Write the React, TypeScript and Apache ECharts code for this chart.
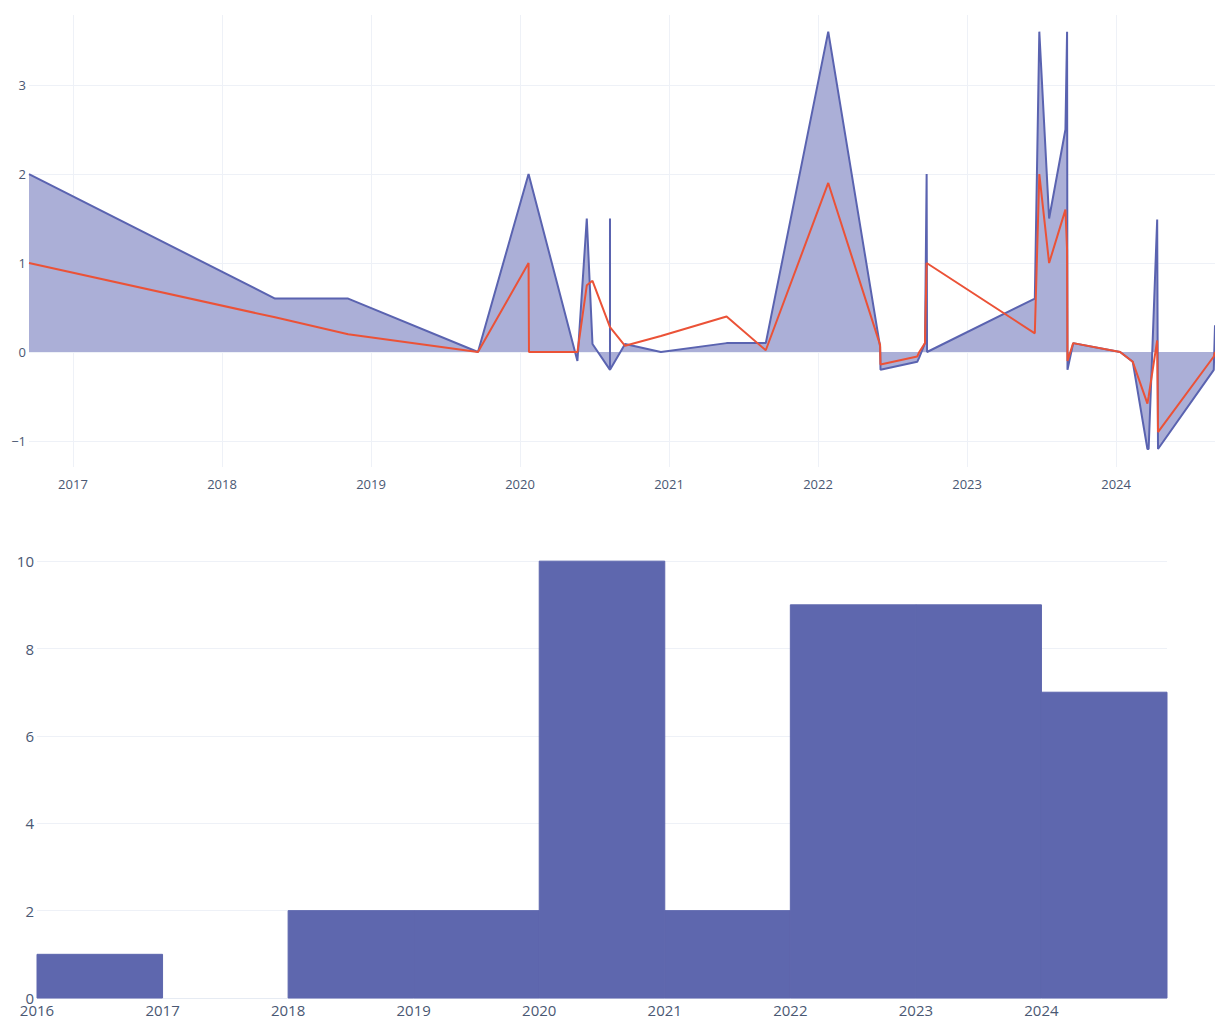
import React, { useEffect, useRef } from "react";
import * as echarts from "echarts";

// ---- Top chart data (dates, blue filled series, red line series) ----
const dates: string[] = [
  "2016-09-15", "2018-05-11", "2018-11-06", "2019-09-20", "2020-01-22",
  "2020-01-23", "2020-05-21", "2020-06-13", "2020-06-27", "2020-08-09",
  "2020-08-09", "2020-08-09", "2020-09-15", "2020-12-12", "2021-05-22",
  "2021-08-26", "2022-01-26", "2022-06-02", "2022-06-03", "2022-09-01",
  "2022-09-06", "2022-09-20", "2022-09-24", "2022-09-25", "2023-06-16",
  "2023-06-27", "2023-07-21", "2023-08-30", "2023-09-03", "2023-09-04",
  "2023-09-18", "2024-01-11", "2024-02-11", "2024-03-18", "2024-03-21",
  "2024-04-11", "2024-04-13", "2024-08-28", "2024-08-31",
];
const blueValues: number[] = [
  2, 0.6, 0.6, 0, 2,
  2, -0.1, 1.5, 0.09, -0.2,
  1.5, -0.2, 0.09, 0, 0.1,
  0.1, 3.6, 0.06, -0.2, -0.11,
  -0.06, 0.1, 2, 0, 0.6,
  3.6, 1.5, 2.5, 3.6, -0.2,
  0.1, 0, -0.11, -1.09, -1.09,
  1.49, -1.09, -0.2, 0.3,
];
const redValues: number[] = [
  1, 0.39, 0.2, 0, 1,
  0, 0, 0.75, 0.8, 0.28,
  0.28, 0.28, 0.07, 0.18, 0.4,
  0.02, 1.9, 0.08, -0.14, -0.05,
  0, 0.1, 1, 1, 0.21,
  2, 1, 1.6, 1.15, -0.1,
  0.1, 0, -0.11, -0.58, -0.5,
  0.13, -0.9, -0.05, 0,
];

// ---- Bottom chart data (yearly histogram) ----
const histYears: number[] = [2016, 2017, 2018, 2019, 2020, 2021, 2022, 2023, 2024];
const histCounts: number[] = [1, 0, 2, 2, 10, 2, 9, 9, 7];

const toYear = (s: string): number => {
  const [y, m, d] = s.split("-").map(Number);
  const start = Date.UTC(y, 0, 1);
  const end = Date.UTC(y + 1, 0, 1);
  return y + (Date.UTC(y, m - 1, d) - start) / (end - start);
};

const FONT = "'Open Sans', 'Noto Sans', sans-serif";
const TEXT = "#4a5873";
const GRID = "#eef1f7";
const BAR = "#5e67ae";

export default function App() {
  const ref = useRef<HTMLDivElement>(null);

  useEffect(() => {
    if (!ref.current) return;
    const chart = echarts.init(ref.current, undefined, { renderer: "svg" });
    const xs = dates.map(toYear);
    const minus = (v: number) => (v < 0 ? "\u2212" + Math.abs(v) : String(v));

    chart.setOption({
      animation: false,
      backgroundColor: "#ffffff",
      textStyle: { fontFamily: FONT },
      grid: [
        { left: 29, top: 15, width: 1186, height: 452 },
        { left: 37, top: 538, width: 1130, height: 460 },
      ],
      xAxis: [
        {
          type: "value",
          gridIndex: 0,
          min: xs[0],
          max: xs[xs.length - 1],
          splitNumber: 8,
          axisLine: { show: false },
          axisTick: { show: false },
          axisLabel: {
            interval: 0,
            showMinLabel: false,
            showMaxLabel: false,
            color: TEXT,
            fontSize: 13,
            fontFamily: FONT,
            margin: 10,
            formatter: (v: number) => String(Math.round(v)),
          },
          splitLine: {
            show: true,
            showMinLine: false,
            showMaxLine: false,
            lineStyle: { color: GRID, width: 1 },
          },
        },
        {
          type: "value",
          gridIndex: 1,
          min: 2016,
          max: 2025,
          interval: 1,
          axisLine: { show: true, lineStyle: { color: "#e6ebf3", width: 1 } },
          axisTick: { show: false },
          axisLabel: {
            interval: 0,
            color: TEXT,
            fontSize: 15,
            fontFamily: FONT,
            margin: 4,
            formatter: (v: number) => (v >= 2025 ? "" : String(v)),
          },
          splitLine: { show: false },
        },
      ],
      yAxis: [
        {
          type: "value",
          gridIndex: 0,
          min: -1.292,
          max: 3.787,
          splitNumber: 5,
          axisLine: { show: false },
          axisTick: { show: false },
          axisLabel: {
            showMinLabel: false,
            showMaxLabel: false,
            color: TEXT,
            fontSize: 13,
            fontFamily: FONT,
            margin: 3,
            formatter: (v: number) => minus(Math.round(v)),
          },
          splitLine: {
            show: true,
            showMinLine: false,
            showMaxLine: false,
            lineStyle: { color: GRID, width: 1 },
          },
        },
        {
          type: "value",
          gridIndex: 1,
          min: 0,
          max: 10.53,
          interval: 2,
          axisLine: { show: false },
          axisTick: { show: false },
          axisLabel: {
            showMaxLabel: false,
            color: TEXT,
            fontSize: 15,
            fontFamily: FONT,
            margin: 3,
          },
          splitLine: {
            show: true,
            showMaxLine: false,
            lineStyle: { color: GRID, width: 1 },
          },
        },
      ],
      series: [
        {
          type: "line",
          xAxisIndex: 0,
          yAxisIndex: 0,
          data: xs.map((x, i) => [x, blueValues[i]]),
          symbol: "none",
          showSymbol: false,
          lineStyle: { color: "#5a63b0", width: 2 },
          areaStyle: { color: "#abafd7", opacity: 1, origin: 0 },
          z: 2,
        },
        {
          type: "line",
          xAxisIndex: 0,
          yAxisIndex: 0,
          data: xs.map((x, i) => [x, redValues[i]]),
          symbol: "none",
          showSymbol: false,
          lineStyle: { color: "#eb5237", width: 2 },
          z: 3,
        },
        {
          type: "custom",
          xAxisIndex: 1,
          yAxisIndex: 1,
          data: histYears.map((y, i) => [y, y + 1, histCounts[i]]),
          encode: { x: [0, 1], y: 2 },
          renderItem: (_params: any, api: any) => {
            const p0 = api.coord([api.value(0), api.value(2)]);
            const p1 = api.coord([api.value(1), 0]);
            const h = p1[1] - p0[1];
            if (h <= 0) return null;
            return {
              type: "rect",
              shape: { x: p0[0], y: p0[1], width: p1[0] - p0[0], height: h },
              style: { fill: BAR, stroke: BAR, lineWidth: 1 },
            };
          },
          z: 2,
        },
      ],
    });

    return () => chart.dispose();
  }, []);

  return (
    <div
      ref={ref}
      style={{ position: "fixed", left: 0, top: 0, width: 1215, height: 1019, background: "#fff" }}
    />
  );
}
